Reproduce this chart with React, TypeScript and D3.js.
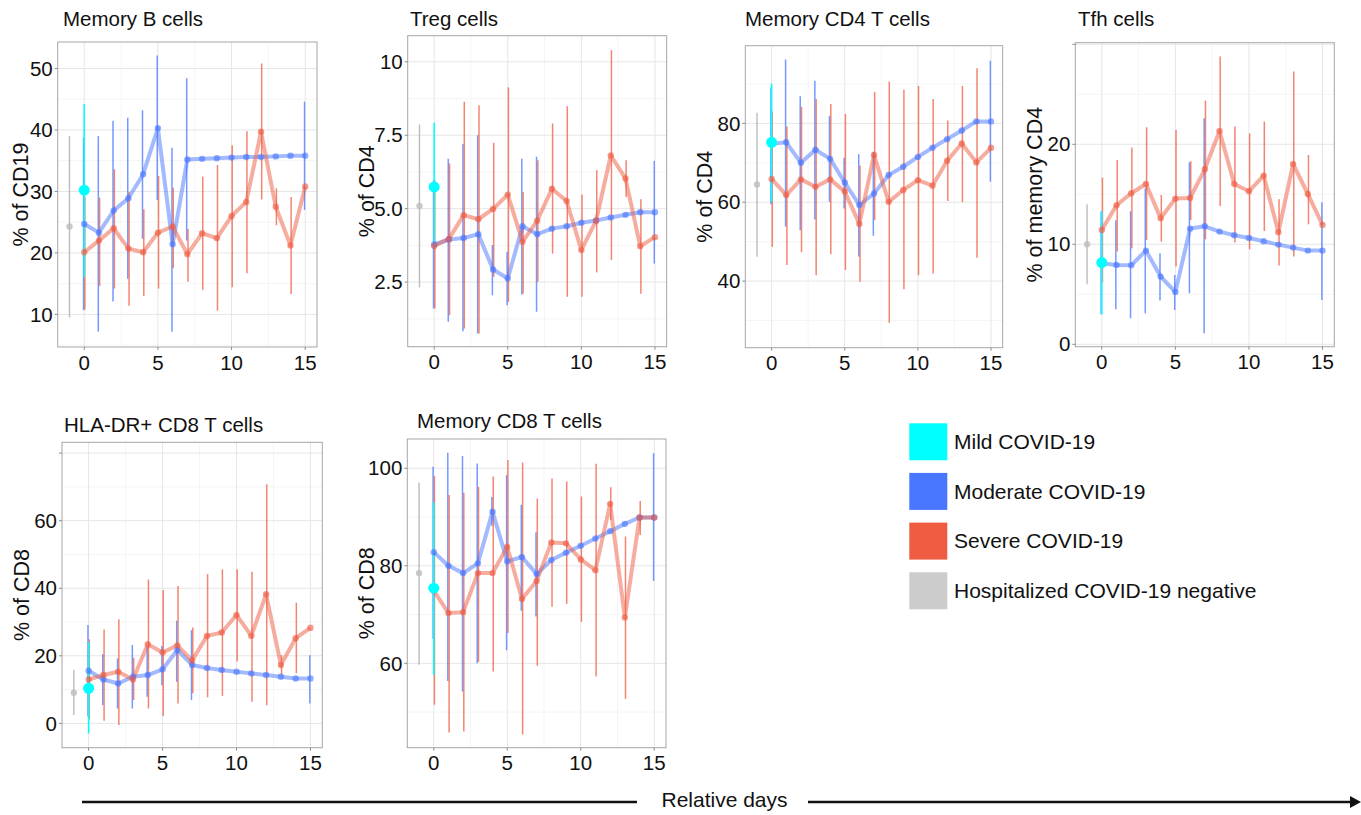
import React from "react";
import * as d3 from "d3";

// days shown on the x axis for the COVID groups
const DAYS = [0, 1, 2, 3, 4, 5, 6, 7, 8, 9, 10, 11, 12, 13, 14, 15];
const NEG_DAY = -1;

const GROUPS = ["Mild COVID-19", "Moderate COVID-19", "Severe COVID-19", "Hospitalized COVID-19 negative"];
const COLORS = ["#00FFFF", "#4876FF", "#EE5C42", "#CCCCCC"];

type Stat = [number, (number | null)?, (number | null)?]; // mean, low, high

// ---- Memory B cells (% of CD19)
const memB_mild: Stat = [30.2, 16.1, 44.2];
const memB_neg: Stat = [24.3, 9.5, 39.0];
const memB_mod: Stat[] = [
  [24.7, 10.7, 38.7], [23.3, 7.2, 39.0], [26.9, 12.1, 41.5], [28.9, 15.8, 42.0],
  [32.8, 22.3, 43.2], [40.3, 28.6, 52.1], [21.4, 7.2, 37.1], [35.2, 22.0, 48.4],
  [35.3], [35.4], [35.5], [35.6], [35.6], [35.7], [35.8], [35.8, 27.0, 44.6],
];
const memB_sev: Stat[] = [
  [20.1, 10.8, 29.1], [22.0, 14.6, 29.0], [24.0, 14.2, 33.6], [20.7, 11.4, 29.9],
  [20.1, 13.0, 27.1], [23.3, 14.2, 32.5], [24.3, 17.5, 30.6], [19.8, 15.3, 23.9],
  [23.2, 14.0, 32.4], [22.4, 10.6, 34.3], [26.0, 14.4, 37.5], [28.3, 16.7, 39.8],
  [39.7, 28.7, 50.8], [27.5, 24.5, 30.5], [21.2, 13.3, 29.1], [30.8],
];

// ---- Treg cells (% of CD4)
const treg_mild: Stat = [5.74, 3.7, 7.93];
const treg_neg: Stat = [5.09, 2.32, 7.87];
const treg_mod: Stat[] = [
  [3.78, 1.6, 5.97], [3.95, 1.15, 6.7], [4.0, 0.83, 7.2], [4.13, 0.75, 7.5],
  [2.93, 2.05, 3.76], [2.62, 1.71, 3.53], [4.4, 2.08, 6.7], [4.13, 1.49, 6.77],
  [4.32], [4.4], [4.52], [4.6], [4.7], [4.79], [4.88], [4.88, 3.13, 6.63],
];
const treg_sev: Stat[] = [
  [3.73, 1.6, 5.97], [3.97, 1.37, 6.54], [4.78, 0.92, 8.64], [4.64, 0.75, 8.52],
  [4.99, 2.68, 7.24], [5.48, 1.83, 9.13], [3.87, 2.11, 5.57], [4.59, 2.51, 6.65],
  [5.68, 3.47, 7.9], [5.26, 2.0, 8.49], [3.59, 2.0, 5.48], [4.59, 2.83, 6.31],
  [6.81, 3.25, 10.4], [6.03, 5.4, 6.65], [3.72, 2.1, 5.32], [4.03],
];

// ---- Memory CD4 T cells (% of CD4)
const cd4_mild: Stat = [75.2, 60.1, 90.1];
const cd4_neg: Stat = [64.5, 46.2, 82.7];
const cd4_mod: Stat[] = [
  [74.8, 59.5, 89.1], [75.2, 53.8, 96.2], [70.0, 52.9, 86.9], [73.3, 55.6, 90.8],
  [71.0, 60.1, 81.9], [65.0, 58.4, 71.3], [59.3, 46.2, 72.2], [62.2, 51.5, 72.8],
  [66.9], [69.0], [71.5], [73.8], [76.0], [78.2], [80.5], [80.5, 65.2, 95.9],
];
const cd4_sev: Stat[] = [
  [65.9, 48.7, 83.0], [61.8, 44.1, 79.2], [65.8, 47.3, 84.2], [63.9, 41.5, 86.2],
  [65.8, 46.8, 84.9], [62.7, 42.8, 82.4], [54.5, 39.8, 69.3], [72.0, 55.5, 88.0],
  [60.1, 29.4, 90.6], [63.1, 37.9, 88.5], [65.6, 41.5, 89.5], [64.2, 41.9, 86.2],
  [70.5, 60.3, 80.7], [74.9, 60.0, 89.5], [70.1, 45.9, 94.0], [73.8],
];

// ---- Tfh cells (% of memory CD4)
const tfh_mild: Stat = [8.17, 3.0, 13.3];
const tfh_neg: Stat = [10.0, 6.0, 14.0];
const tfh_mod: Stat[] = [
  [8.1, 3.0, 13.3], [7.93, 3.5, 12.4], [7.9, 2.6, 13.3], [9.37, 3.1, 15.6],
  [6.77, 4.37, 9.1], [5.23, 3.43, 6.93], [11.57, 5.1, 18.2], [11.8, 1.1, 22.6],
  [11.27], [10.9], [10.63], [10.3], [9.97], [9.67], [9.37], [9.37, 4.43, 14.2],
];
const tfh_sev: Stat[] = [
  [11.43, 6.17, 16.67], [13.9, 9.27, 18.43], [15.1, 9.6, 19.67], [16.03, 10.43, 21.7],
  [12.6, 10.27, 14.93], [14.57, 7.77, 21.43], [14.63, 12.43, 18.3], [17.5, 10.5, 24.37],
  [21.33, 13.83, 28.77], [16.03, 10.17, 21.77], [15.3, 9.5, 21.1], [16.87, 11.33, 22.27],
  [11.2, 7.87, 14.5], [18.03, 8.77, 27.27], [15.03, 12.0, 18.93], [11.93],
];

// ---- HLA-DR+ CD8 T cells (% of CD8)
const hla_mild: Stat = [10.4, -3.0, 24.2];
const hla_neg: Stat = [9.1, 2.5, 15.8];
const hla_mod: Stat[] = [
  [15.6, 2.0, 29.1], [13.0, 5.4, 20.5], [11.8, 4.4, 19.2], [13.8, 4.4, 23.2],
  [14.3, 7.9, 22.7], [16.0, 11.3, 22.9], [21.7, 12.3, 30.4], [17.3, 6.9, 27.6],
  [16.4], [15.8], [15.3], [14.8], [14.3], [13.8], [13.3], [13.3, 5.9, 20.2],
];
const hla_sev: Stat[] = [
  [13.0, 1.2, 24.9], [14.3, 0.8, 27.8], [15.3, -0.5, 30.8], [13.0, 6.9, 19.4],
  [23.4, 4.4, 42.6], [21.0, 2.2, 39.5], [23.1, 5.9, 40.7], [18.6, 8.9, 28.4],
  [25.9, 7.7, 44.2], [26.9, 8.1, 45.6], [32.1, 18.3, 45.6], [25.9, 6.4, 44.9],
  [38.2, 5.4, 70.8], [17.3, 14.3, 20.2], [25.2, 14.8, 35.7], [28.3],
];

// ---- Memory CD8 T cells (% of CD8)
const cd8_mild: Stat = [75.4, 57.6, 93.0];
const cd8_neg: Stat = [78.5, 59.7, 97.1];
const cd8_mod: Stat[] = [
  [82.8, 65.0, 100.3], [80.0, 56.4, 103.2], [78.5, 54.2, 102.5], [80.5, 60.0, 101.0],
  [91.1, 88.2, 94.1], [80.9, 62.7, 98.6], [81.8, 70.8, 92.5], [78.3, 69.6, 86.9],
  [81.2], [82.7], [84.1], [85.6], [87.1], [88.6], [89.9], [89.9, 76.9, 103.1],
];
const cd8_sev: Stat[] = [
  [74.9, 51.5, 98.4], [70.3, 45.8, 94.5], [70.5, 46.0, 95.0], [78.5, 60.3, 96.2],
  [78.5, 58.3, 98.3], [83.9, 66.2, 101.7], [73.2, 45.4, 101.2], [76.9, 59.5, 93.8],
  [84.8, 71.6, 97.9], [84.6, 72.2, 97.3], [81.3, 68.5, 94.2], [79.1, 57.3, 100.9],
  [92.7, 89.4, 96.1], [69.4, 52.7, 86.0], [89.9, 86.3, 93.3], [89.9],
];

const FONT = "'Liberation Sans', Arial, Helvetica, sans-serif";

interface PanelCfg {
  title: string;
  ylab: string;
  box: [number, number, number, number]; // left, right, top, bottom
  yDomain: [number, number];
  yTicks: number[];
  yTickLabels: string[];
  yMinor: number[];
  titlePos: [number, number];
  ylabX: number;
  mild: Stat;
  neg: Stat;
  mod: Stat[];
  sev: Stat[];
}

const panels: PanelCfg[] = [
  {
    title: "Memory B cells", ylab: "% of CD19", box: [57.7, 317, 42, 347], yDomain: [4.7, 54.3],
    yTicks: [10, 20, 30, 40, 50], yTickLabels: ["10", "20", "30", "40", "50"], yMinor: [5, 15, 25, 35, 45],
    titlePos: [63, 25.5], ylabX: 20.5, mild: memB_mild, neg: memB_neg, mod: memB_mod, sev: memB_sev,
  },
  {
    title: "Treg cells", ylab: "% of CD4", box: [407.7, 666.7, 35.7, 346.7], yDomain: [0.3, 10.89],
    yTicks: [2.5, 5, 7.5, 10], yTickLabels: ["2.5", "5.0", "7.5", "10"], yMinor: [1.25, 3.75, 6.25, 8.75],
    titlePos: [410, 26], ylabX: 366, mild: treg_mild, neg: treg_neg, mod: treg_mod, sev: treg_sev,
  },
  {
    title: "Memory CD4 T cells", ylab: "% of CD4", box: [745.3, 1002.7, 45.7, 347.7], yDomain: [23.1, 99.7],
    yTicks: [40, 60, 80], yTickLabels: ["40", "60", "80"], yMinor: [30, 50, 70, 90],
    titlePos: [745, 26], ylabX: 704, mild: cd4_mild, neg: cd4_neg, mod: cd4_mod, sev: cd4_sev,
  },
  {
    title: "Tfh cells", ylab: "% of memory CD4", box: [1075.3, 1334.3, 42.7, 346.7], yDomain: [-0.24, 30.16],
    yTicks: [0, 10, 20, 30], yTickLabels: ["0", "10", "20", ""], yMinor: [5, 15, 25],
    titlePos: [1078, 26], ylabX: 1034, mild: tfh_mild, neg: tfh_neg, mod: tfh_mod, sev: tfh_sev,
  },
  {
    title: "HLA-DR+ CD8 T cells", ylab: "% of CD8", box: [62, 322.3, 442.3, 747.7], yDomain: [-7.2, 83.2],
    yTicks: [0, 20, 40, 60, 80], yTickLabels: ["0", "20", "40", "60", ""], yMinor: [10, 30, 50, 70],
    titlePos: [64, 431.5], ylabX: 21, mild: hla_mild, neg: hla_neg, mod: hla_mod, sev: hla_sev,
  },
  {
    title: "Memory CD8 T cells", ylab: "% of CD8", box: [407.3, 666, 439, 747.7], yDomain: [42.7, 106],
    yTicks: [60, 80, 100], yTickLabels: ["60", "80", "100"], yMinor: [50, 70, 90],
    titlePos: [417, 428.3], ylabX: 366, mild: cd8_mild, neg: cd8_neg, mod: cd8_mod, sev: cd8_sev,
  },
];

const X_TICKS = [0, 5, 10, 15];
const X_MINOR = [2.5, 7.5, 12.5];

function ErrorBar({ x, y, s, color, width, opacity }: any) {
  if (s[1] == null || s[2] == null) return null;
  return (
    <line x1={x} x2={x} y1={y(s[1])} y2={y(s[2])} stroke={color} strokeWidth={width} strokeOpacity={opacity} />
  );
}

function Panel({ p }: { p: PanelCfg }) {
  const [L, R, T, B] = p.box;
  const x = d3.scaleLinear().domain([-1.8, 15.8]).range([L, R]);
  const y = d3.scaleLinear().domain(p.yDomain).range([B, T]);
  const dodge = 0.045;
  const line = d3
    .line<Stat>()
    .x((_, i) => x(DAYS[i]))
    .y((d) => y(d[0]));
  const [cMild, cMod, cSev] = COLORS;

  return (
    <g>
      <text x={p.titlePos[0]} y={p.titlePos[1]} fontSize={20.5} fontFamily={FONT} fill="#111">
        {p.title}
      </text>
      <rect x={L} y={T} width={R - L} height={B - T} fill="white" />
      {/* grid */}
      {p.yMinor.filter((v) => v > p.yDomain[0] && v < p.yDomain[1]).map((v) => (
        <line key={"ym" + v} x1={L} x2={R} y1={y(v)} y2={y(v)} stroke="#f2f2f2" strokeWidth={0.8} />
      ))}
      {X_MINOR.map((v) => (
        <line key={"xm" + v} x1={x(v)} x2={x(v)} y1={T} y2={B} stroke="#f2f2f2" strokeWidth={0.8} />
      ))}
      {p.yTicks.map((v) => (
        <line key={"yg" + v} x1={L} x2={R} y1={y(v)} y2={y(v)} stroke="#e6e6e6" strokeWidth={1} />
      ))}
      {X_TICKS.map((v) => (
        <line key={"xg" + v} x1={x(v)} x2={x(v)} y1={T} y2={B} stroke="#e6e6e6" strokeWidth={1} />
      ))}

      {/* error bars */}
      <ErrorBar x={x(NEG_DAY)} y={y} s={p.neg} color="#b5b5b5" width={1.4} opacity={0.9} />
      {p.mod.map((s, i) => (
        <ErrorBar key={"me" + i} x={x(DAYS[i] - dodge)} y={y} s={s} color={cMod} width={1.5} opacity={0.75} />
      ))}
      {p.sev.map((s, i) => (
        <ErrorBar key={"se" + i} x={x(DAYS[i] + dodge)} y={y} s={s} color={cSev} width={1.5} opacity={0.75} />
      ))}
      <ErrorBar x={x(0)} y={y} s={p.mild} color={cMild} width={1.6} opacity={1} />

      {/* mean lines */}
      <path d={line(p.mod) || ""} fill="none" stroke={cMod} strokeWidth={4} strokeOpacity={0.5} strokeLinejoin="round" />
      <path d={line(p.sev) || ""} fill="none" stroke={cSev} strokeWidth={4} strokeOpacity={0.5} strokeLinejoin="round" />

      {/* points */}
      <circle cx={x(NEG_DAY)} cy={y(p.neg[0])} r={3.2} fill="#bdbdbd" fillOpacity={0.8} />
      {p.mod.map((s, i) => (
        <circle key={"mp" + i} cx={x(DAYS[i])} cy={y(s[0])} r={3.2} fill={cMod} fillOpacity={0.6} />
      ))}
      {p.sev.map((s, i) => (
        <circle key={"sp" + i} cx={x(DAYS[i])} cy={y(s[0])} r={3.2} fill={cSev} fillOpacity={0.6} />
      ))}
      <circle cx={x(0)} cy={y(p.mild[0])} r={5.5} fill={cMild} />

      {/* frame */}
      <rect x={L} y={T} width={R - L} height={B - T} fill="none" stroke="#a6a6a6" strokeWidth={1} />

      {/* y axis */}
      {p.yTicks.map((v, i) => (
        <g key={"yt" + v}>
          <line x1={L - 3} x2={L} y1={y(v)} y2={y(v)} stroke="#8c8c8c" strokeWidth={1} />
          <text x={L - 5} y={y(v)} dy="0.35em" textAnchor="end" fontSize={20.5} fontFamily={FONT} fill="#111">
            {p.yTickLabels[i]}
          </text>
        </g>
      ))}
      {/* x axis */}
      {X_TICKS.map((v) => (
        <g key={"xt" + v}>
          <line x1={x(v)} x2={x(v)} y1={B} y2={B + 3} stroke="#8c8c8c" strokeWidth={1} />
          <text x={x(v)} y={B + 22.5} textAnchor="middle" fontSize={20.5} fontFamily={FONT} fill="#111">
            {v}
          </text>
        </g>
      ))}
      <text
        transform={`translate(${p.ylabX},${(T + B) / 2}) rotate(-90)`}
        dy="0.35em"
        textAnchor="middle"
        fontSize={21.5}
        fontFamily={FONT}
        fill="#111"
      >
        {p.ylab}
      </text>
    </g>
  );
}

export default function App() {
  const legendX = 909.3;
  const legendY = [423.3, 472.9, 522.6, 572.3];
  return (
    <svg
      width={1361}
      height={815}
      style={{ position: "absolute", left: 0, top: 0, background: "white" }}
      fontFamily={FONT}
    >
      <rect width={1361} height={815} fill="white" />
      {panels.map((p) => (
        <Panel key={p.title} p={p} />
      ))}

      {/* legend */}
      {GROUPS.map((g, i) => (
        <g key={g}>
          <rect x={legendX} y={legendY[i]} width={38} height={37} fill={COLORS[i]} />
          <text x={954} y={legendY[i] + 18.5} dy="0.35em" fontSize={21} fill="#111">
            {g}
          </text>
        </g>
      ))}

      {/* relative days arrow */}
      <line x1={82} x2={637} y1={802} y2={802} stroke="#111" strokeWidth={2.5} />
      <line x1={808} x2={1352} y1={802} y2={802} stroke="#111" strokeWidth={2.5} />
      <polygon points="1350,796 1361,802 1350,808" fill="#111" />
      <text x={724.5} y={807} textAnchor="middle" fontSize={21} fill="#111">
        Relative days
      </text>
    </svg>
  );
}
